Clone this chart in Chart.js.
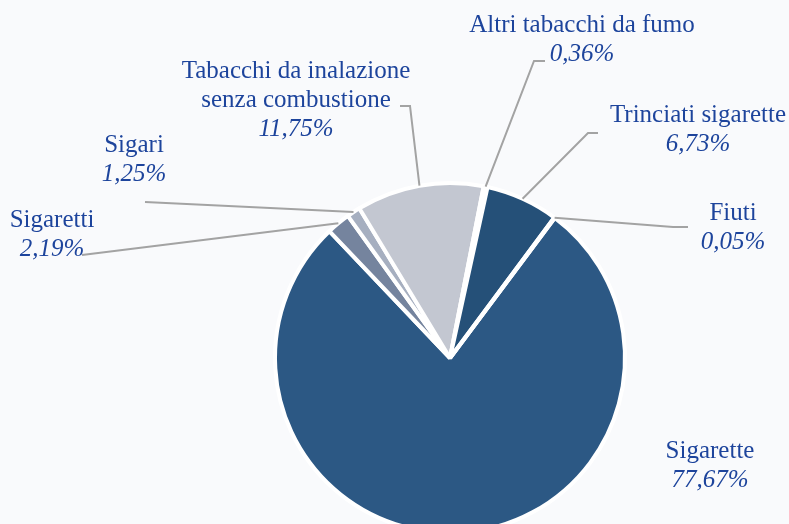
<!DOCTYPE html>
<html>
<head>
<meta charset="utf-8">
<script src="https://cdn.jsdelivr.net/npm/chart.js@4"></script>
<style>
  html, body { margin: 0; padding: 0; background: #f9fafc; }
  #wrap { width: 789px; height: 524px; overflow: hidden; position: relative; }
</style>
</head>
<body>
<div id="wrap"><canvas id="pie" width="789" height="540"></canvas></div>
<script>
// --- data (clockwise from the Sigarette slice) ---
const categories = [
    ['Sigarette'],
    ['Sigaretti'],
    ['Sigari'],
    ['Tabacchi da inalazione', 'senza combustione'],
    ['Altri tabacchi da fumo'],
    ['Trinciati sigarette'],
    ['Fiuti']
];
const shares = [77.67, 2.19, 1.25, 11.75, 0.36, 6.73, 0.05];
const sliceColors = ['#2c5884', '#75849e', '#a6afc0', '#c3c7d1', '#8e97a8', '#255078', '#3a6593'];

// label placement (centre of first text line) and leader elbows, kept apart from data
const labelAt = [
    { x: 710, y: 451, leader: null },
    { x: 52, y: 220, leader: [[82, 255]] },
    { x: 134, y: 145, leader: [[145, 202]] },
    { x: 296, y: 71, leader: [[410, 106], [400, 106]] },
    { x: 582, y: 25, leader: [[534, 61], [545, 61]] },
    { x: 698, y: 115, leader: [[588, 133], [598, 133]] },
    { x: 733, y: 213, leader: [[673, 227], [688, 227]] }
];

const fmt = v => v.toFixed(2).replace('.', ',') + '%';

const labelPlugin = {
    id: 'sliceLabels',
    afterDraw(chart) {
        const ctx = chart.ctx;
        const arcs = chart.getDatasetMeta(0).data;
        ctx.save();
        arcs.forEach((arc, i) => {
            const spot = labelAt[i];
            const mid = (arc.startAngle + arc.endAngle) / 2;
            const r = arc.outerRadius;
            if (spot.leader) {
                ctx.beginPath();
                ctx.moveTo(arc.x + Math.cos(mid) * r, arc.y + Math.sin(mid) * r);
                spot.leader.forEach(p => ctx.lineTo(p[0], p[1]));
                ctx.strokeStyle = '#a3a3a3';
                ctx.lineWidth = 2;
                ctx.stroke();
            }
            ctx.fillStyle = '#1d449c';
            ctx.textAlign = 'center';
            ctx.textBaseline = 'middle';
            ctx.font = '25px "Liberation Serif", "DejaVu Serif", serif';
            const lines = categories[i];
            lines.forEach((t, k) => ctx.fillText(t, spot.x, spot.y + k * 29));
            ctx.font = 'italic 25px "Liberation Serif", "DejaVu Serif", serif';
            ctx.fillText(fmt(shares[i]), spot.x, spot.y + lines.length * 29);
        });
        ctx.restore();
    }
};

new Chart(document.getElementById('pie'), {
    type: 'pie',
    data: {
        labels: categories.map(c => c.join(' ')),
        datasets: [{
            data: shares,
            backgroundColor: sliceColors,
            borderColor: '#ffffff',
            borderWidth: 4
        }]
    },
    options: {
        responsive: false,
        animation: false,
        rotation: 36.8,
        layout: { padding: { left: 273, right: 162, top: 181, bottom: 5 } },
        plugins: { legend: { display: false }, tooltip: { enabled: false } }
    },
    plugins: [labelPlugin]
});
</script>
</body>
</html>
